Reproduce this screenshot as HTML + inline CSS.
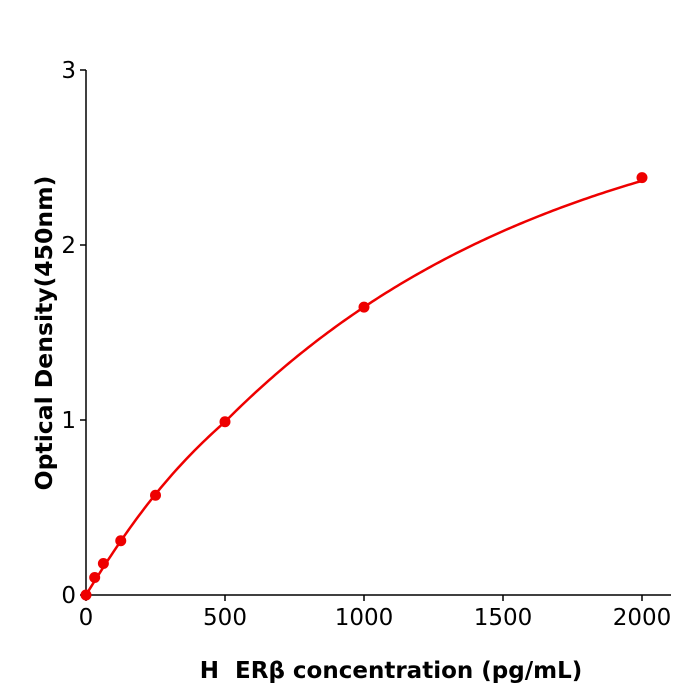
<!DOCTYPE html>
<html><head><meta charset="utf-8"><style>body{margin:0;background:#fff}svg{display:block}text{font-family:"DejaVu Sans","Liberation Sans",sans-serif}</style></head>
<body>
<svg id="s" width="700" height="700" viewBox="0 0 700 700">
<g stroke="#000" stroke-width="1.5" fill="none">
<line x1="86" y1="70" x2="86" y2="595"/>
<line x1="86" y1="595" x2="671" y2="595"/>
<line x1="80" y1="595" x2="86" y2="595"/>
<line x1="80" y1="420" x2="86" y2="420"/>
<line x1="80" y1="245" x2="86" y2="245"/>
<line x1="80" y1="70" x2="86" y2="70"/>
<line x1="86" y1="595" x2="86" y2="601"/>
<line x1="225" y1="595" x2="225" y2="601"/>
<line x1="364" y1="595" x2="364" y2="601"/>
<line x1="503" y1="595" x2="503" y2="601"/>
<line x1="642" y1="595" x2="642" y2="601"/>
</g>
<g font-size="23" fill="#000" text-anchor="end">
<text x="76" y="603">0</text><text x="76" y="428">1</text><text x="76" y="253">2</text><text x="76" y="78">3</text>
</g>
<g font-size="23" fill="#000" text-anchor="middle">
<text x="86" y="625">0</text><text x="225" y="625">500</text><text x="364" y="625">1000</text><text x="503" y="625">1500</text><text x="642" y="625">2000</text>
</g>
<text x="391" y="678" font-size="23" font-weight="bold" text-anchor="middle">H&#160; ERβ concentration (pg/mL)</text>
<text transform="translate(52,333) rotate(-90)" font-size="23.5" font-weight="bold" text-anchor="middle">Optical Density(450nm)</text>
<path id="c" d="" stroke="#e00" stroke-width="2.5" fill="none"/>
<g id="p" fill="#e00"></g>
</svg>
<script>
var d=[[0,0],[31.25,0.1],[62.5,0.18],[125,0.31],[250,0.57],[500,0.99],[1000,1.645],[2000,2.385]];
function f(x){return 2.93*(1-Math.exp(-x/1213))+(x<500?0.03*Math.sin(Math.PI*x/500):0);}
var s="";
for(var x=0;x<=2000;x+=10){s+=(x?" L":"M")+(86+x*0.278).toFixed(2)+","+(595-f(x)*175).toFixed(2);}
document.getElementById("c").setAttribute("d",s);
var g=document.getElementById("p");
d.forEach(function(a){var c=document.createElementNS("http://www.w3.org/2000/svg","circle");c.setAttribute("cx",86+a[0]*0.278);c.setAttribute("cy",595-a[1]*175);c.setAttribute("r",5.5);g.appendChild(c);});
</script>
</body></html>
